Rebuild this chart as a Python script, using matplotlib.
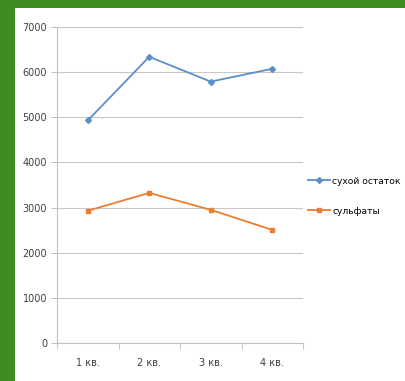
import matplotlib
matplotlib.use('Agg')
import matplotlib.pyplot as plt
from matplotlib.patches import Rectangle

# данные по кварталам
kvartaly = ['1 кв.', '2 кв.', '3 кв.', '4 кв.']
suhoy_ostatok = [4930, 6340, 5790, 6075]
sulfaty = [2930, 3325, 2950, 2505]
y_ticks = [0, 1000, 2000, 3000, 4000, 5000, 6000, 7000]

plt.rcParams['font.family'] = ['Liberation Sans Narrow', 'DejaVu Sans']

fig = plt.figure(figsize=(4.05, 3.81), dpi=100)
fig.patch.set_facecolor('#3f8c22')

# белая подложка под диаграмму
fig.add_artist(Rectangle((15 / 405, 0), 1, 1 - 8 / 381, transform=fig.transFigure,
                         facecolor='white', edgecolor='none', zorder=-5))

ax = fig.add_axes([57 / 405, 38 / 381, 246 / 405, 316 / 381])
ax.set_zorder(2)
ax.set_facecolor('white')

x = range(len(kvartaly))
ax.plot(x, suhoy_ostatok, color='#5b8fc8', marker='D', markersize=3, linewidth=1.3,
        label='сухой остаток')
ax.plot(x, sulfaty, color='#ed7d31', marker='s', markersize=3.5, linewidth=1.3,
        label='сульфаты')

ax.set_xlim(-0.5, 3.5)
ax.set_ylim(0, 7000)
ax.set_yticks(y_ticks)
ax.set_yticklabels([str(v) for v in y_ticks])
ax.set_xticks(list(x))
ax.set_xticklabels(kvartaly)
ax.set_xticks([-0.5, 0.5, 1.5, 2.5, 3.5], minor=True)

ax.grid(axis='y', color='#c8c8c8', linewidth=0.8)
ax.set_axisbelow(True)
for s in ['top', 'right']:
    ax.spines[s].set_visible(False)
for s in ['left', 'bottom']:
    ax.spines[s].set_color('#bfbfbf')
ax.tick_params(axis='both', which='major', labelsize=7, colors='#404040')
ax.tick_params(axis='x', which='major', length=0, pad=11)
ax.tick_params(axis='x', which='minor', length=4, color='#bfbfbf')
ax.tick_params(axis='y', which='major', length=4, color='#bfbfbf', direction='out', pad=3)

ax.legend(loc='center left', bbox_to_anchor=(0.995, 0.465), frameon=False, fontsize=6.6,
          handlelength=2.4, handletextpad=0.2, labelspacing=2.3, borderaxespad=0.3)

fig.savefig('out.png', dpi=100, facecolor=fig.get_facecolor())
